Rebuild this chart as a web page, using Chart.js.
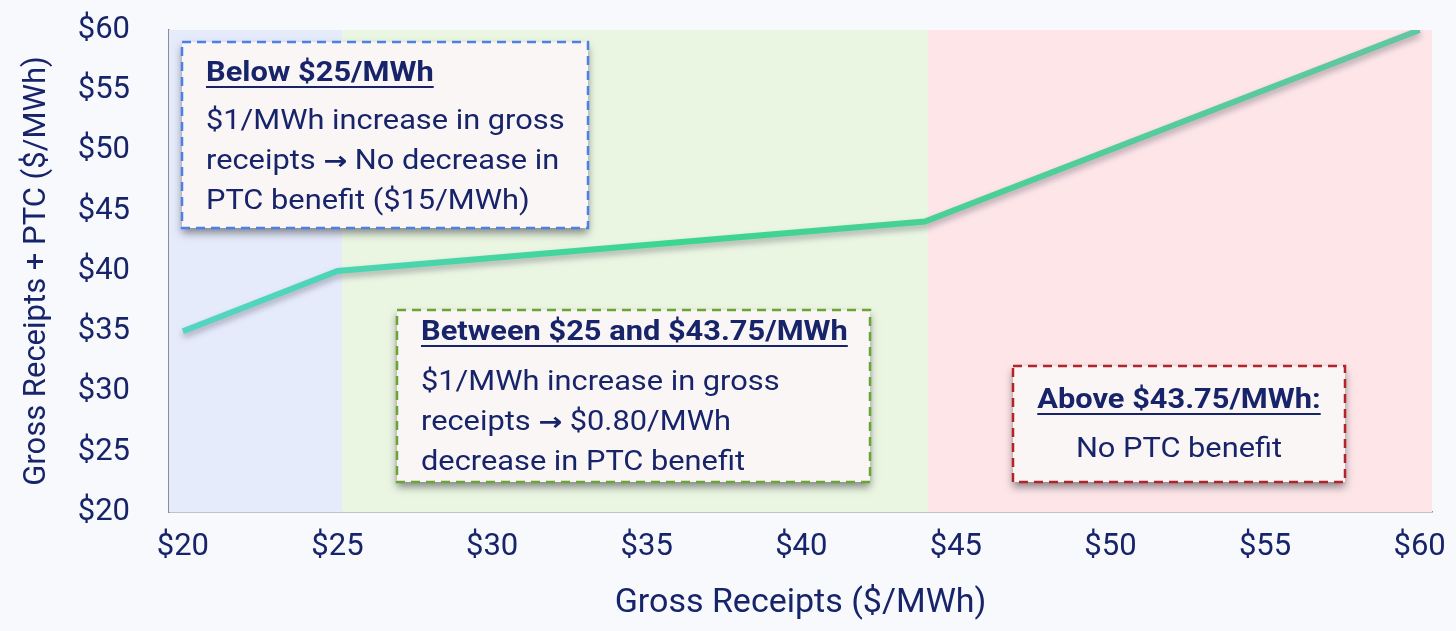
<!DOCTYPE html>
<html>
<head>
<meta charset="utf-8">
<script src="https://cdn.jsdelivr.net/npm/chart.js@4.4.0/dist/chart.umd.min.js"></script>
<style>
  html, body { margin: 0; padding: 0; background: #f8f9fc; }
  #wrap { width: 1456px; height: 631px; position: relative; }
</style>
</head>
<body>
<div id="wrap"><canvas id="ptcChart"></canvas></div>
<script>
// Gross receipts vs. gross receipts + PTC ($/MWh)
const grossReceipts = [20, 25, 44, 60];
const receiptsPlusPtc = [35, 40, 44.1, 60];
const xTicks = [20, 25, 30, 35, 40, 45, 50, 55, 60];
const yTicks = [20, 25, 30, 35, 40, 45, 50, 55, 60];

// shaded regions: axis start -> edge -> edge -> axis end
const bandEdges = [25.15, 44.1];
const bandColors = ['#e6ebfb', '#eaf6e2', '#fde5e8'];

// text boxes
const noteTitles = ['Below $25/MWh', 'Between $25 and $43.75/MWh', 'Above $43.75/MWh:'];
const noteLines = [
    ['$1/MWh increase in gross', 'receipts \u2192 No decrease in', 'PTC benefit ($15/MWh)'],
    ['$1/MWh increase in gross', 'receipts \u2192 $0.80/MWh', 'decrease in PTC benefit'],
    ['No PTC benefit']
];

const NAVY = '#17246a';
const FONT = 'Roboto, "Noto Sans", sans-serif';
const ARROW_FONT = '"DejaVu Sans", sans-serif';

// box placement in canvas pixels
const noteBoxes = [
    { x: 182, y: 42, w: 406, h: 186, border: '#4d80e4', align: 'left', titleDy: 32, lineDy: 80 },
    { x: 397, y: 310, w: 473, h: 172, border: '#6aa533', align: 'left', titleDy: 23, lineDy: 73 },
    { x: 1013, y: 366, w: 332, h: 116, border: '#b3232a', align: 'center', titleDy: 35, lineDy: 84 }
];

// draw a line of text, arrow glyph in its own font, stretched horizontally by sx
function drawRuns(ctx, text, x, y, align, font, size, sx) {
    const parts = text.split('\u2192');
    const runs = [];
    parts.forEach((p, i) => {
        if (i > 0) runs.push({ t: '\u2192', f: 'bold ' + size + 'px ' + ARROW_FONT });
        if (p) runs.push({ t: p, f: font });
    });
    let total = 0;
    runs.forEach(r => { ctx.font = r.f; r.w = ctx.measureText(r.t).width; total += r.w; });
    let cx = align === 'center' ? x - total * sx / 2 : x;
    const start = cx;
    ctx.textAlign = 'left';
    runs.forEach(r => {
        ctx.save();
        ctx.font = r.f;
        ctx.translate(cx, y);
        ctx.scale(sx, 1);
        ctx.fillText(r.t, 0, 0);
        ctx.restore();
        cx += r.w * sx;
    });
    return { left: start, width: total * sx };
}

// background bands behind the line
const bandsPlugin = {
    id: 'bands',
    beforeDatasetsDraw(chart) {
        const { ctx, chartArea, scales } = chart;
        const edges = [chartArea.left, ...bandEdges.map(v => scales.x.getPixelForValue(v)), chartArea.right];
        ctx.save();
        for (let i = 0; i < bandColors.length; i++) {
            ctx.fillStyle = bandColors[i];
            ctx.fillRect(edges[i], chartArea.top, edges[i + 1] - edges[i], chartArea.bottom - chartArea.top);
        }
        ctx.restore();
    }
};

// soft drop shadow under the line
const shadowPlugin = {
    id: 'lineShadow',
    beforeDatasetDraw(chart) {
        const ctx = chart.ctx;
        ctx.save();
        ctx.shadowColor = 'rgba(40, 40, 60, 0.35)';
        ctx.shadowBlur = 6;
        ctx.shadowOffsetY = 4;
    },
    afterDatasetDraw(chart) {
        chart.ctx.restore();
    }
};

// the three dashed callout boxes
const notesPlugin = {
    id: 'notes',
    afterDatasetsDraw(chart) {
        const ctx = chart.ctx;
        noteBoxes.forEach((box, i) => {
            ctx.save();
            ctx.shadowColor = 'rgba(30, 30, 40, 0.5)';
            ctx.shadowBlur = 8;
            ctx.shadowOffsetY = 5;
            ctx.fillStyle = '#faf6f6';
            ctx.fillRect(box.x, box.y, box.w, box.h);
            ctx.restore();

            ctx.save();
            ctx.setLineDash([9, 6]);
            ctx.lineWidth = 2.5;
            ctx.strokeStyle = box.border;
            ctx.strokeRect(box.x, box.y, box.w, box.h);
            ctx.setLineDash([]);

            ctx.fillStyle = NAVY;
            ctx.strokeStyle = NAVY;
            ctx.textBaseline = 'middle';
            const tx = box.align === 'center' ? box.x + box.w / 2 : box.x + 24;

            const ty = box.y + box.titleDy;
            const t = drawRuns(ctx, noteTitles[i], tx, ty, box.align, 'bold 28px ' + FONT, 28, 1.1);
            ctx.lineWidth = 2;
            ctx.beginPath();
            ctx.moveTo(t.left, ty + 13);
            ctx.lineTo(t.left + t.width, ty + 13);
            ctx.stroke();

            noteLines[i].forEach((line, j) => {
                drawRuns(ctx, line, tx, box.y + box.lineDy + j * 40, box.align, '27px ' + FONT, 25, 1.14);
            });
            ctx.restore();
        });
    }
};

const chart = new Chart(document.getElementById('ptcChart'), {
    type: 'line',
    data: {
        datasets: [{
            data: grossReceipts.map((x, i) => ({ x: x, y: receiptsPlusPtc[i] })),
            borderWidth: 6,
            pointRadius: 0,
            tension: 0,
            borderColor: (c) => {
                const area = c.chart.chartArea;
                if (!area) return '#45d3a6';
                const g = c.chart.ctx.createLinearGradient(area.left, 0, area.right, 0);
                g.addColorStop(0, '#55d5c6');
                g.addColorStop(0.4, '#3bd68f');
                g.addColorStop(1, '#63c6a2');
                return g;
            }
        }]
    },
    options: {
        responsive: true,
        maintainAspectRatio: false,
        animation: false,
        layout: { padding: { top: 30, right: 24, left: 8, bottom: 7 } },
        plugins: {
            legend: { display: false },
            tooltip: { enabled: false }
        },
        scales: {
            x: {
                type: 'linear',
                min: 19.55,
                max: 60.4,
                afterBuildTicks: (s) => { s.ticks = xTicks.map(v => ({ value: v })); },
                afterFit: (s) => { s.paddingLeft = 0; s.paddingRight = 0; },
                grid: { display: false, drawTicks: false },
                border: { display: true, color: '#8a8d96', width: 1.5 },
                ticks: {
                    color: NAVY,
                    font: { family: FONT, size: 31 },
                    padding: 17,
                    maxRotation: 0,
                    callback: (v) => '$' + v
                },
                title: {
                    display: true,
                    text: 'Gross Receipts ($/MWh)',
                    color: NAVY,
                    font: { family: FONT, size: 34 },
                    padding: { top: 0, bottom: 0 }
                }
            },
            y: {
                min: 20,
                max: 60,
                afterBuildTicks: (s) => { s.ticks = yTicks.map(v => ({ value: v })); },
                afterFit: (s) => { s.width = 161; s.paddingTop = 0; s.paddingBottom = 0; },
                grid: { display: false, drawTicks: false },
                border: { display: true, color: '#8a8d96', width: 1.5 },
                ticks: {
                    color: NAVY,
                    font: { family: FONT, size: 31 },
                    padding: 39,
                    callback: (v) => '$' + v
                },
                title: {
                    display: true,
                    text: 'Gross Receipts + PTC ($/MWh)',
                    color: NAVY,
                    font: { family: FONT, size: 31 },
                    padding: { top: 11, bottom: 0 }
                }
            }
        }
    },
    plugins: [bandsPlugin, shadowPlugin, notesPlugin]
});
</script>
</body>
</html>
